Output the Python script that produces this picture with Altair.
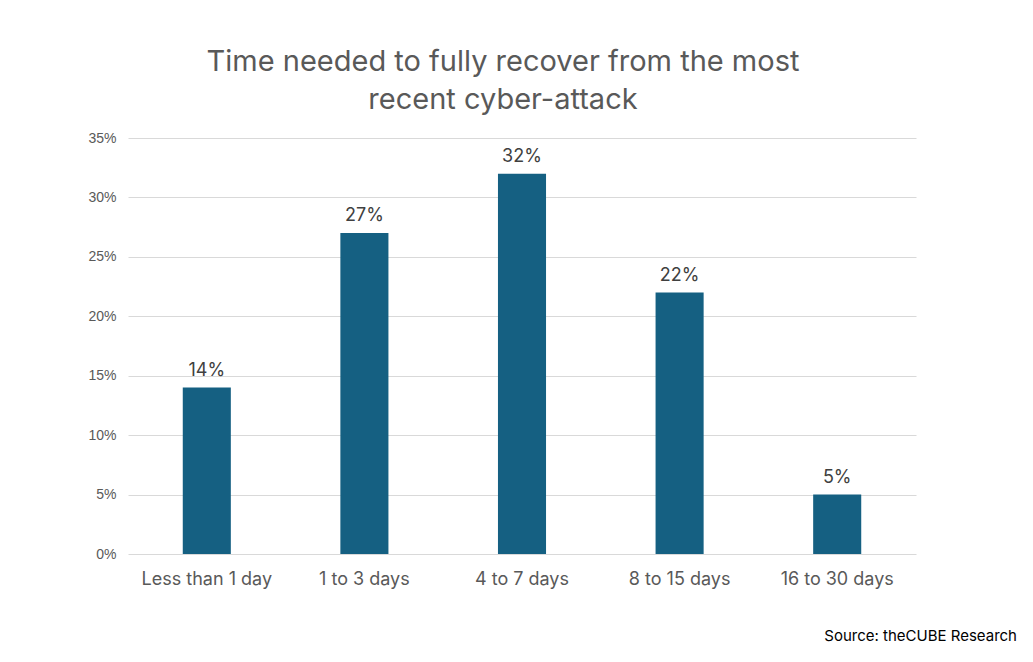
import altair as alt
import pandas as pd

categories = ["Less than 1 day", "1 to 3 days", "4 to 7 days", "8 to 15 days", "16 to 30 days"]
values = [0.14, 0.27, 0.32, 0.22, 0.05]
labels = ["14%", "27%", "32%", "22%", "5%"]

df = pd.DataFrame({"cat": categories, "val": values, "lbl": labels})

x = alt.X("cat:N", sort=categories, title=None,
          scale=alt.Scale(paddingInner=0.695, paddingOuter=0.3475),
          axis=alt.Axis(labelAngle=0, labelFontSize=18, labelColor="#595959",
                        labelFont="Inter", labelPadding=16, ticks=False, domain=False))
y = alt.Y("val:Q", title=None,
          scale=alt.Scale(domain=[0, 0.35]),
          axis=alt.Axis(format=".0%", values=[0, 0.05, 0.1, 0.15, 0.2, 0.25, 0.3, 0.35],
                        labelFontSize=14, labelColor="#595959", labelFont="Liberation Sans",
                        labelPadding=12, ticks=False, domain=False,
                        gridColor="#d9d9d9", gridWidth=1))

bars = alt.Chart(df).mark_bar(color="#156082").encode(x=x, y=y)
text = alt.Chart(df).mark_text(baseline="bottom", dy=-8, fontSize=18, color="#404040",
                               font="Inter").encode(x=x, y=y, text="lbl:N")

source = alt.Chart(pd.DataFrame({"t": ["Source: theCUBE Research"]})).mark_text(
    align="right", baseline="alphabetic", fontSize=15, color="#000000", font="Inter"
).encode(x=alt.value(889), y=alt.value(503), text="t:N")

chart = alt.layer(bars, text, source).properties(
    width=788, height=416,
    autosize=alt.AutoSizeParams(type="none"),
    padding={"left": 120, "top": 130, "right": 109, "bottom": 100},
    title=alt.TitleParams(["Time needed to fully recover from the most", "recent cyber-attack"],
                          fontSize=29, font="Inter", fontWeight="normal", color="#595959",
                          anchor="middle", dx=-19, offset=16, lineHeight=38)
).configure_view(stroke=None)

chart.save("out.html", embed_options={"renderer": "svg", "actions": False})
